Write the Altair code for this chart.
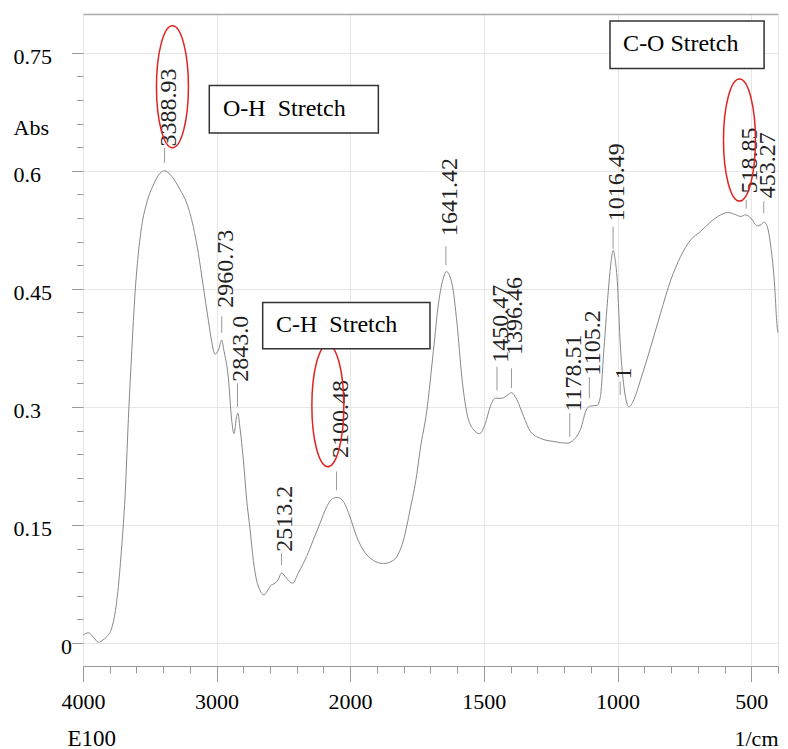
import altair as alt
import pandas as pd

# ---- spectrum (wavenumber 1/cm, absorbance) ----
wavenumber = [4000, 3960, 3920, 3885, 3850, 3822, 3785, 3760, 3735, 3710, 3685, 3660, 3635, 3610,
              3590, 3561, 3523, 3473, 3423, 3389, 3336, 3273, 3223, 3174, 3136, 3099, 3061, 3036,
              3011, 2986, 2961, 2945, 2912, 2886, 2869, 2849, 2840, 2824, 2799, 2774, 2749, 2724,
              2700, 2674, 2644, 2620, 2599, 2562, 2540, 2512, 2474, 2430, 2387, 2350, 2325, 2275,
              2225, 2175, 2125, 2095, 2050, 2000, 1975, 1950, 1913, 1875, 1838, 1800, 1775, 1750,
              1738, 1713, 1688, 1669, 1650, 1640, 1619, 1600, 1582, 1563, 1538, 1516, 1494, 1476,
              1457, 1432, 1411, 1396, 1376, 1351, 1326, 1288, 1238, 1188, 1164, 1139, 1114, 1101,
              1076, 1064, 1051, 1032, 1024, 1016, 1010, 1001, 989, 976, 957, 939, 914, 876, 839,
              801, 764, 727, 689, 652, 614, 589, 564, 539, 521, 502, 477, 458, 452, 440, 427, 414,
              402, 400]
absorbance = [0.010, 0.013, 0.007, 0.001, 0.004, 0.008, 0.019, 0.038, 0.072, 0.123, 0.186, 0.285,
              0.370, 0.445, 0.487, 0.529, 0.559, 0.582, 0.597, 0.600, 0.593, 0.576, 0.559, 0.529,
              0.495, 0.453, 0.410, 0.383, 0.367, 0.372, 0.385, 0.372, 0.338, 0.283, 0.266, 0.288,
              0.292, 0.273, 0.233, 0.182, 0.145, 0.105, 0.080, 0.067, 0.061, 0.066, 0.072, 0.076,
              0.080, 0.089, 0.082, 0.076, 0.089, 0.101, 0.110, 0.131, 0.152, 0.173, 0.184, 0.185,
              0.180, 0.160, 0.135, 0.118, 0.105, 0.101, 0.105, 0.131, 0.170, 0.215, 0.245, 0.295,
              0.372, 0.432, 0.465, 0.472, 0.457, 0.406, 0.338, 0.292, 0.271, 0.266, 0.279, 0.300,
              0.311, 0.311, 0.315, 0.318, 0.309, 0.288, 0.269, 0.260, 0.256, 0.254, 0.258, 0.271,
              0.298, 0.301, 0.302, 0.313, 0.372, 0.457, 0.485, 0.499, 0.490, 0.461, 0.376, 0.326,
              0.300, 0.309, 0.334, 0.376, 0.419, 0.461, 0.491, 0.512, 0.523, 0.535, 0.544, 0.547,
              0.545, 0.542, 0.544, 0.540, 0.530, 0.533, 0.535, 0.529, 0.504, 0.461, 0.398, 0.394]

# ---- peak labels ----
peak_text = ["3388.93", "2960.73", "2843.0", "2513.2", "2100.48", "1641.42", "1450.47",
             "1396.46", "1178.51", "1105.2", "1016.49", "1", "518.85", "453.27"]
peak_wn = [3388.93, 2960.73, 2843.0, 2513.2, 2100.48, 1641.42, 1450.47,
           1396.46, 1178.51, 1105.2, 1016.49, 990, 518.85, 453.27]
tick_lo = [0.610, 0.394, 0.300, 0.099, 0.194, 0.480, 0.321, 0.324, 0.262, 0.311, 0.501, 0.315, 0.552, 0.546]
tick_hi = [0.629, 0.415, 0.330, 0.114, 0.218, 0.504, 0.351, 0.349, 0.292, 0.338, 0.529, 0.332, 0.563, 0.561]
text_start = [0.631, 0.426, 0.332, 0.116, 0.235, 0.517, 0.356, 0.366, 0.294, 0.340, 0.536, 0.335, 0.571, 0.565]

# ---- annotation boxes ----
box_text = ["O-H\u00a0 Stretch", "C-H\u00a0 Stretch", "C-O Stretch"]
box_wn1 = [3054, 2654, 1028]
box_wn2 = [1894, 1701, 452]
box_a1 = [0.7083, 0.4325, 0.7902]
box_a2 = [0.6481, 0.3739, 0.7300]
box_text_wn = [2951, 2554, 979]
box_text_a = [0.6693, 0.3956, 0.7520]

# ---- red ellipses (centres) ----
ellipse_wn = [3330, 2166, 544]
ellipse_a = [0.7068, 0.3016, 0.6390]

# ---- axis ticks ----
x_ticks = [4000, 3800, 3600, 3400, 3200, 3000, 2800, 2600, 2400, 2200, 2000,
           1900, 1800, 1700, 1600, 1500, 1400, 1300, 1200, 1100, 1000,
           900, 800, 700, 600, 500, 400]
x_major = [4000, 3000, 2000, 1500, 1000, 500]
y_ticks = [0, 0.03, 0.06, 0.09, 0.12, 0.15, 0.18, 0.21, 0.24, 0.27, 0.3, 0.33, 0.36,
           0.39, 0.42, 0.45, 0.48, 0.51, 0.54, 0.57, 0.6, 0.63, 0.66, 0.69, 0.72, 0.75, 0.7992]
y_major = [0, 0.15, 0.3, 0.45, 0.6, 0.75]

FONT = "Liberation Serif"

spec_df = pd.DataFrame({"wn": wavenumber, "a": absorbance, "ord": list(range(len(wavenumber)))})
peak_df = pd.DataFrame({"t": peak_text, "wn": peak_wn, "a": tick_lo, "a2": tick_hi, "ts": text_start})
box_df = pd.DataFrame({"t": box_text, "wn": box_wn1, "wn2": box_wn2, "a": box_a1, "a2": box_a2,
                       "twn": box_text_wn, "ta": box_text_a})
ell_df = pd.DataFrame({"wn": ellipse_wn, "a": ellipse_a})

x_scale = alt.Scale(domain=[4000, 2000, 400], range=[0, 267, 695], nice=False, zero=False)
y_scale = alt.Scale(domain=[-0.0292, 0.7992], nice=False, zero=False)

xm = str(x_major)
ym = str(y_major)

x_axis = alt.Axis(
    values=x_ticks,
    labelExpr=f"indexof({xm}, datum.value) >= 0 ? datum.value + '' : ''",
    tickSize={"condition": {"test": f"indexof({xm}, datum.value) >= 0", "value": 15.5}, "value": 7},
    tickColor="#999999",
    domainColor="#999999",
    grid=True,
    gridColor="#e6e6e6",
    gridOpacity={"condition": {"test": f"indexof({xm}, datum.value) >= 0 || datum.value == 400", "value": 1}, "value": 0},
    labelFont=FONT, labelFontSize=22, labelColor="#000000",
    labelPadding=9.5, labelFlush=False, labelOverlap=False, labelSeparation=0,
    title="1/cm", titleFont=FONT, titleFontSize=22, titleFontWeight="normal", titleColor="#000000",
    titleX=695, titleY=79, titleAlign="right", titleBaseline="alphabetic", titleAnchor="end",
)

y_axis = alt.Axis(
    values=y_ticks,
    labelExpr=f"indexof({ym}, datum.value) >= 0 ? format(datum.value, '.2~f') : (datum.value == 0.66 ? 'Abs' : '')",
    domain=False,
    tickSize={"condition": {"test": f"indexof({ym}, datum.value) >= 0", "value": 11.5}, "value": 6.5},
    tickColor="#999999",
    tickOpacity={"condition": {"test": "datum.value > 0.79", "value": 0}, "value": 1},
    grid=True,
    gridColor={"condition": {"test": "datum.value > 0.79", "value": "#aaaaaa"}, "value": "#e6e6e6"},
    gridWidth={"condition": {"test": "datum.value > 0.79", "value": 1.5}, "value": 1},
    gridOpacity={"condition": {"test": f"indexof({ym}, datum.value) >= 0 || datum.value > 0.79", "value": 1}, "value": 0},
    labelFont=FONT, labelFontSize=22, labelColor="#000000",
    labelAlign={"condition": {"test": "datum.value == 0", "value": "right"}, "value": "left"},
    labelPadding={"condition": [{"test": "datum.value == 0", "value": 0},
                                {"test": "datum.value == 0.66", "value": 63.5}], "value": 58.5},
    labelBaseline="middle", labelOffset=3.5, labelOverlap=False, labelSeparation=0,
    title="E100", titleFont=FONT, titleFontSize=23, titleFontWeight="normal", titleColor="#000000",
    titleAngle=0, titleX=-16, titleY=731, titleAlign="left", titleBaseline="alphabetic",
)


def X(field):
    return alt.X(field, type="quantitative", scale=x_scale, axis=x_axis)


def Y(field):
    return alt.Y(field, type="quantitative", scale=y_scale, axis=y_axis)


line = alt.Chart(spec_df).mark_line(color="#888888", strokeWidth=1, interpolate="monotone").encode(
    x=X("wn"), y=Y("a"), order="ord:Q",
)

ticks = alt.Chart(peak_df).mark_rule(color="#999999", strokeWidth=1).encode(
    x=X("wn"), y=Y("a"), y2="a2:Q"
)

labels = alt.Chart(peak_df).mark_text(
    angle=270, align="left", baseline="middle", dy=4, font=FONT, fontSize=24, color="#222222"
).encode(x=X("wn"), y=Y("ts"), text="t:N")

ellipse_path = "M0,-1A0.262,1,0,1,1,0,1A0.262,1,0,1,1,0,-1Z"
ellipses = alt.Chart(ell_df).mark_point(
    shape=ellipse_path, size=14884, filled=False, color="#e02424", strokeWidth=1.5, opacity=1
).encode(x=X("wn"), y=Y("a"))

boxes = alt.Chart(box_df).mark_rect(fill="white", stroke="#333333", strokeWidth=1.5).encode(
    x=X("wn"), x2="wn2:Q", y=Y("a"), y2="a2:Q"
)

box_labels = alt.Chart(box_df).mark_text(
    align="left", baseline="alphabetic", font=FONT, fontSize=24, color="#000000"
).encode(x=X("twn"), y=Y("ta"), text="t:N")

chart = alt.layer(line, ticks, labels, ellipses, boxes, box_labels).properties(
    width=695, height=652,
    padding={"left": 83, "top": 14, "right": 10, "bottom": 83},
    autosize=alt.AutoSizeParams(type="none"),
).configure_view(stroke=None).configure_axis(labelOverlap=False)

chart.save("out.html", embed_options={"renderer": "svg", "actions": False})
